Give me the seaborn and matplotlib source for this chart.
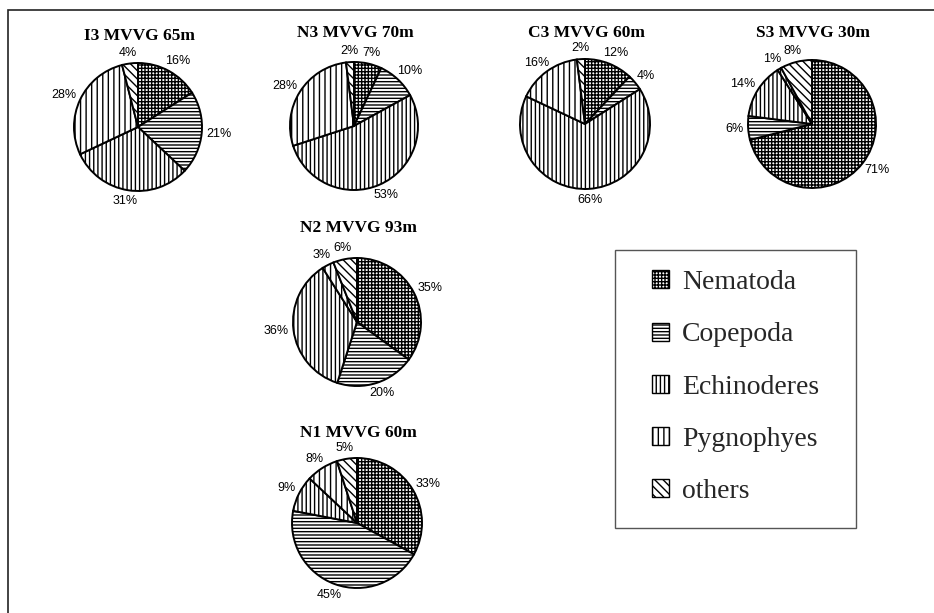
import matplotlib
matplotlib.use("Agg")
import numpy as np
import matplotlib.pyplot as plt
from matplotlib.patches import Patch, Rectangle
import seaborn as sns

# Meiofauna composition (%) per station, clockwise from 12 o'clock
groups = ["Nematoda", "Copepoda", "Echinoderes", "Pygnophyes", "others"]
stations = ["I3 MVVG 65m", "N3 MVVG 70m", "C3 MVVG 60m",
            "S3 MVVG 30m", "N2 MVVG 93m", "N1 MVVG 60m"]
i3 = [16, 21, 31, 28, 4]
n3 = [7, 10, 53, 28, 2]
c3 = [12, 4, 66, 16, 2]
s3 = [71, 6, 14, 1, 8]
n2 = [35, 20, 36, 3, 6]
n1 = [33, 45, 9, 8, 5]
shares = [i3, n3, c3, s3, n2, n1]

# black-and-white fill patterns, one per group
hatches = ["+++++", "-----", "||||", "|||", "\\\\\\\\"]

sns.set_theme(style="white")
plt.rcParams["hatch.linewidth"] = 1.0
plt.rcParams["font.family"] = ["Liberation Sans", "DejaVu Sans"]

W, H = 934, 613
fig = plt.figure(figsize=(W / 100, H / 100), dpi=100)
ax = fig.add_axes([0, 0, 1, 1])

# pie centre (x, y from top), radius, title centre y -- all in pixels
layout = [
    (138, 127, 64, 36),
    (354, 126, 64, 33),
    (585, 124, 65, 33),
    (812, 124, 64, 33),
    (357, 322, 64, 228),
    (357, 523, 65, 433),
]

drawn = []
for name, vals, (cx, cy, r, ty) in zip(stations, shares, layout):
    wedges, _, autotexts = ax.pie(
        vals,
        center=(cx, H - cy),
        radius=r,
        startangle=90,
        counterclock=False,
        colors=["white"] * len(vals),
        hatch=hatches,
        autopct="%.0f%%",
        pctdistance=1.25,
        wedgeprops=dict(edgecolor="black", linewidth=1.4),
        textprops=dict(fontsize=9, color="black",
                       family=["Liberation Sans", "DejaVu Sans"]),
    )
    drawn.append(((cx, H - cy, r), wedges, autotexts))
    ax.text(cx + 1, H - ty, name, ha="center", va="center",
            family=["Liberation Serif", "DejaVu Serif"], weight="bold",
            fontsize=12.5, color="black")

ax.set_xlim(0, W)
ax.set_ylim(0, H)
ax.set_aspect("auto")
ax.axis("off")

# push each percentage label out so its box sits just outside the rim
fig.canvas.draw()
renderer = fig.canvas.get_renderer()
gap = 5
for (cx, cy, r), wedges, autotexts in drawn:
    for w, t in zip(wedges, autotexts):
        mid = np.deg2rad((w.theta1 + w.theta2) / 2)
        ux, uy = np.cos(mid), np.sin(mid)
        bb = t.get_window_extent(renderer)
        t.set_position((cx + ux * (r + gap + bb.width / 2),
                        cy + uy * (r + gap + bb.height / 2)))

# outer frame (left and top edges)
ax.plot([8, 8, W], [0, H - 10, H - 10], color="#222222", lw=1.2,
        solid_joinstyle="miter")

# legend box
ax.add_patch(Rectangle((615, H - 528), 241, 278, fill=False,
                       edgecolor="#555555", lw=1.0))
handles = [Patch(facecolor="white", edgecolor="black", hatch=h, label=g)
           for g, h in zip(groups, hatches)]
fig.legend(handles=handles, loc="center",
           bbox_to_anchor=(735.5 / W, 1 - 387 / H),
           frameon=False,
           prop=dict(family=["Liberation Serif", "DejaVu Serif"], size=20),
           handlelength=0.62, handleheight=0.62, handletextpad=0.45,
           labelspacing=0.98)

fig.savefig("out.png", dpi=100, facecolor="white")
